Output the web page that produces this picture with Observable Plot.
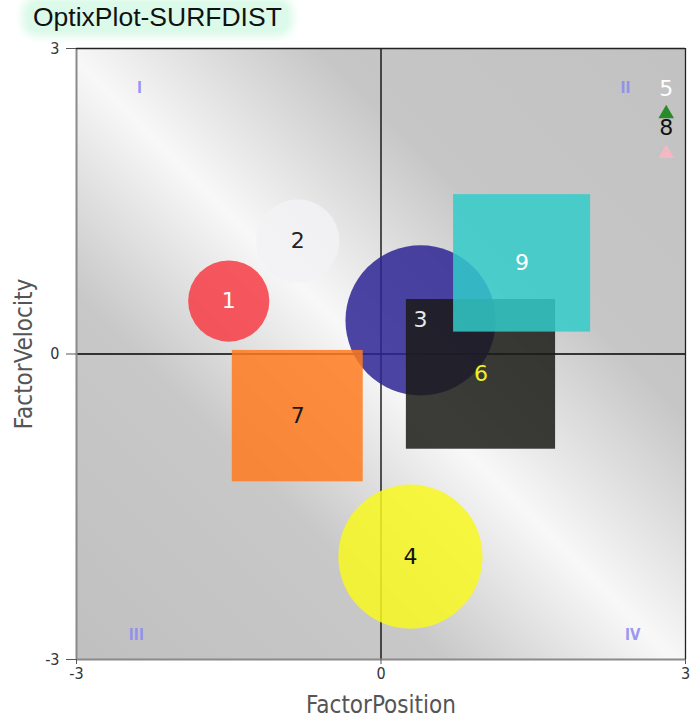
<!DOCTYPE html>
<html><head><meta charset="utf-8">
<script src="https://cdn.jsdelivr.net/npm/d3@7"></script>
<script src="https://cdn.jsdelivr.net/npm/@observablehq/plot@0.6"></script>
<style>
body{margin:0;background:#fff;}
#title{height:36px;position:relative;}
#title span{position:absolute;left:27px;top:2px;font:26.5px "Liberation Sans",Arial,sans-serif;color:#111;padding:0 6px;line-height:30px;background:#dcfae9;border-radius:10px;box-shadow:0 0 9px 5px #dcfae9;}
</style></head><body>
<div id="title"><span>OptixPlot-SURFDIST</span></div>
<div id="chart"></div>
<script>
// ---- data ----
const ids    = ["1", "2", "3", "4", "6", "7", "9"];
const shapes = ["circle", "circle", "circle", "circle", "square", "square", "square"];
const posX   = [-1.50, -0.82, 0.39, 0.29, 0.985, -0.82, 1.39];
const posY   = [0.52, 1.11, 0.33, -1.99, -0.20, -0.61, 0.89];
const sizes  = [0.40, 0.41, 0.74, 0.71, 0.735, 0.645, 0.675];   // radius / half-side in axis units
const markerIds = ["5", "8"];
const markerX   = [2.81, 2.81];
const markerY   = [2.36, 1.97];
const quadrantLabels = ["I", "II", "III", "IV"];
const quadrantX = [-2.38, 2.41, -2.41, 2.48];
const quadrantY = [2.61, 2.61, -2.76, -2.76];
const tickValues = [-3, 0, 3];
const xLabel = "FactorPosition";
const yLabel = "FactorVelocity";

// ---- palette ----
const fillColors  = ["#f73c44", "#f2f2f4", "#2e2494", "#f8f820", "#1a1a16", "#ff7a1e", "#33cbca"];
const labelColors = ["#ffffff", "#222222", "#e8e8e8", "#111111", "#f0f020", "#1a1a1a", "#ffffff"];
const markerColors = ["#2a8a2a", "#f4b8c2"];
const markerLabelColors = ["#ffffff", "#111111"];

const W = 696, H = 682, ML = 76, MR = 11, MT = 12, MB = 59;
const unit = (W - ML - MR) / 6;

const rows = ids.map((id, i) => ({id, shape: shapes[i], x: posX[i], y: posY[i], size: sizes[i], label: labelColors[i]}));
const circles = rows.filter(d => d.shape === "circle");
const squares = rows.filter(d => d.shape === "square");
const markers = markerIds.map((id, i) => ({id, x: markerX[i], y: markerY[i], label: markerLabelColors[i]}));
const quads = quadrantLabels.map((t, i) => ({t, x: quadrantX[i], y: quadrantY[i]}));

const defs = () => {
  const ns = "http://www.w3.org/2000/svg";
  const g = document.createElementNS(ns, "defs");
  g.innerHTML = `<linearGradient id="bg" x1="1" y1="0" x2="0" y2="1">
    <stop offset="0" stop-color="#c2c2c2"/>
    <stop offset="0.3" stop-color="#c6c6c6"/>
    <stop offset="0.51" stop-color="#f8f8f8"/>
    <stop offset="0.7" stop-color="#c8c8c8"/>
    <stop offset="1" stop-color="#c0c0c0"/>
  </linearGradient>`;
  return g;
};

const labelFont = "'DejaVu Sans', sans-serif";
const uniqLabel = [...new Set(rows.map(d => d.label))];

const chart = Plot.plot({
  width: W, height: H,
  marginLeft: ML, marginRight: MR, marginTop: MT, marginBottom: MB,
  style: {fontFamily: "'DejaVu Sans Condensed','DejaVu Sans',sans-serif", fontSize: "16px", color: "#333", background: "transparent"},
  x: {domain: [-3, 3]},
  y: {domain: [-3, 3]},
  r: {type: "linear", domain: [0, 1], range: [0, unit]},
  color: {domain: [...ids, ...markerIds], range: [...fillColors, ...markerColors]},
  marks: [
    defs,
    Plot.frame({fill: "url(#bg)"}),
    Plot.ruleX([0], {stroke: "#000", strokeWidth: 1.3}),
    Plot.ruleY([0], {stroke: "#000", strokeWidth: 1.3}),
    Plot.dot(circles, {x: "x", y: "y", r: "size", fill: "id", fillOpacity: 0.85, stroke: null}),
    Plot.rect(squares, {x1: d => d.x - d.size, x2: d => d.x + d.size, y1: d => d.y - d.size, y2: d => d.y + d.size, fill: "id", fillOpacity: 0.85}),
    ...uniqLabel.map(c => Plot.text(rows.filter(d => d.label === c), {x: "x", y: "y", text: "id", fill: c, fontSize: 22, fontFamily: labelFont})),
    Plot.dot(markers, {x: "x", y: "y", symbol: "triangle", r: 5.8, fill: "id"}),
    ...markerLabelColors.map(c => Plot.text(markers.filter(d => d.label === c), {x: "x", y: "y", text: "id", dy: -25, fill: c, fontSize: 22, fontFamily: labelFont})),
    Plot.text(quads, {x: "x", y: "y", text: "t", fill: "#8c8cf0", fontSize: 15, fontWeight: "bold", fillOpacity: 0.9}),
    Plot.ruleX([-3], {stroke: "#8a8a8a", strokeWidth: 2}),
    Plot.ruleY([-3], {stroke: "#8a8a8a", strokeWidth: 2}),
    Plot.ruleX([3], {stroke: "#222", strokeWidth: 1.3}),
    Plot.ruleY([3], {stroke: "#222", strokeWidth: 1.3}),
    Plot.axisX({ticks: tickValues, tickFormat: d => String(d), tickSize: 5, tickPadding: 3, label: null, stroke: "#555"}),
    Plot.axisY({ticks: tickValues, tickFormat: d => String(d), tickSize: 10, tickPadding: 7, label: null, stroke: "#555"}),
    Plot.text([xLabel], {frameAnchor: "bottom", textAnchor: "middle", dy: 53, fontSize: 24, fill: "#555"}),
    Plot.text([yLabel], {frameAnchor: "left", textAnchor: "middle", lineAnchor: "middle", dx: -52, rotate: -90, fontSize: 24, fill: "#555"})
  ]
});
document.getElementById("chart").appendChild(chart);
</script>
</body></html>
